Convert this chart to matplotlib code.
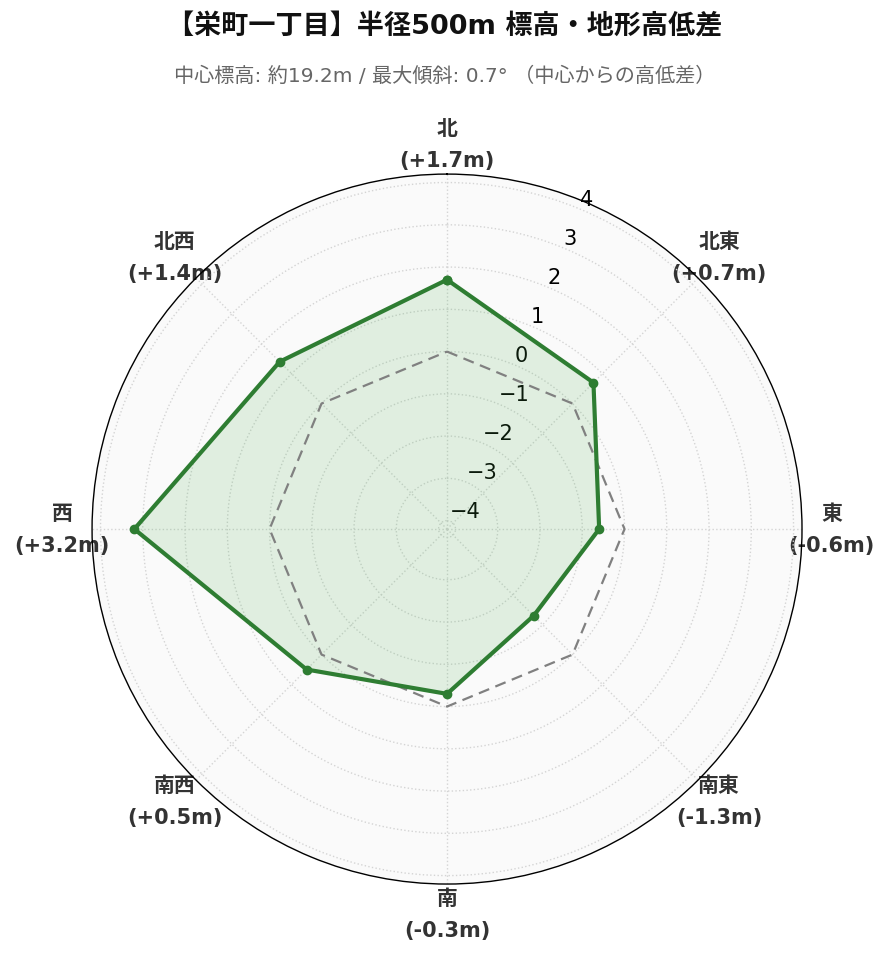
import numpy as np
import matplotlib.pyplot as plt

plt.rcParams['font.family'] = ['DejaVu Sans', 'Noto Sans CJK JP']

# 方角と中心からの高低差 (m)
directions = ['北', '北東', '東', '南東', '南', '南西', '西', '北西']
diffs = [1.7, 0.7, -0.6, -1.3, -0.3, 0.5, 3.2, 1.4]
r_ticks = [-4, -3, -2, -1, 0, 1, 2, 3, 4]

title = '【栄町一丁目】半径500m 標高・地形高低差'
subtitle = '中心標高: 約19.2m / 最大傾斜: 0.7° （中心からの高低差）'

n = len(directions)
angles = np.linspace(0, 2 * np.pi, n, endpoint=False)
ang_c = np.append(angles, angles[0])
vals_c = np.append(diffs, diffs[0])
lim = max(abs(v) for v in diffs) + 1

fig = plt.figure(figsize=(8.89, 9.62), dpi=100)
ax = fig.add_axes([0.1035, 0.080, 0.7987, 0.738], projection='polar')
ax.set_theta_zero_location('N')
ax.set_theta_direction(-1)
ax.set_facecolor('#fafafa')

# 基準線 (高低差 0)
ax.plot(ang_c, np.zeros(len(ang_c)), color='gray', linestyle='--', linewidth=1.6,
        dashes=(5, 3), zorder=3)

ax.fill(ang_c, vals_c, color='#4caf50', alpha=0.15, zorder=2)
ax.plot(ang_c, vals_c, color='#2e7d32', linewidth=3, marker='o', markersize=6, zorder=4)

ax.set_ylim(-lim, lim)
ax.set_yticks(r_ticks)
ax.set_yticklabels([f'{t}'.replace('-', '\u2212') for t in r_ticks], fontsize=15)
ax.set_rlabel_position(22.5)

labels = [f'{d}\n({v:+.1f}m)' for d, v in zip(directions, diffs)]
ax.set_xticks(angles)
ax.set_xticklabels(labels, fontsize=15, fontweight='bold', color='#333333')
for t in ax.get_xticklabels():
    t.set_linespacing(1.75)
ax.tick_params(axis='x', pad=11)

ax.grid(True, color='#d4d4d4', linestyle=':', linewidth=1.0)
ax.spines['polar'].set_color('black')
ax.spines['polar'].set_linewidth(1.0)

fig.text(0.5, 0.971, title, ha='center', va='center', fontsize=19.5, fontweight='bold',
         color='#111111')
fig.text(0.5, 0.921, subtitle, ha='center', va='center', fontsize=14.5, color='#666666')

fig.savefig('out.png', dpi=100)
